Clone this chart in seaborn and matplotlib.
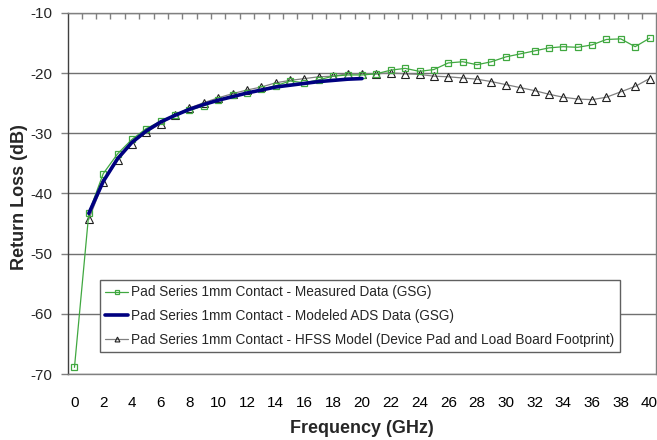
import numpy as np
import pandas as pd
import matplotlib
matplotlib.use("Agg")
import matplotlib.pyplot as plt
from matplotlib.ticker import FixedLocator
import seaborn as sns

freq = list(range(0, 41))
measured = [-68.9, -43.2, -36.7, -33.4, -31.0, -29.2, -28.0, -26.9, -26.2, -25.4,
            -24.5, -23.7, -23.3, -22.7, -22.1, -21.3, -21.6, -21.1, -20.5, -20.3,
            -20.3, -20.1, -19.5, -19.2, -19.7, -19.4, -18.3, -18.1, -18.6, -18.1,
            -17.3, -16.8, -16.3, -15.8, -15.6, -15.7, -15.3, -14.4, -14.3, -15.6,
            -14.2]
freq_ads = list(range(1, 21))
modeled = [-43.3, -38.0, -34.2, -31.5, -29.6, -28.1, -27.0, -26.0, -25.2, -24.5,
           -23.9, -23.3, -22.8, -22.3, -22.0, -21.7, -21.4, -21.2, -21.0, -20.9]
freq_hfss = list(range(1, 41))
hfss = [-44.3, -38.1, -34.5, -31.7, -29.8, -28.4, -26.9, -25.8, -24.9, -24.1,
        -23.4, -22.8, -22.3, -21.6, -21.2, -20.9, -20.6, -20.5, -20.1, -20.1,
        -20.1, -19.95, -20.1, -20.2, -20.5, -20.6, -20.8, -21.0, -21.4, -21.9,
        -22.4, -22.9, -23.5, -24.0, -24.3, -24.4, -24.0, -23.1, -22.2, -20.9]
labels = ["Pad Series 1mm Contact - Measured Data (GSG)",
          "Pad Series 1mm Contact - Modeled ADS Data (GSG)",
          "Pad Series 1mm Contact - HFSS Model (Device Pad and Load Board Footprint)"]
xtick_vals = list(range(0, 41, 2))
ytick_vals = [-70, -60, -50, -40, -30, -20, -10]

sns.set_style("white")
plt.rcParams['font.family'] = ['Liberation Sans', 'DejaVu Sans']

fig = plt.figure(figsize=(6.57, 4.40), dpi=100)
ax = fig.add_axes([68/657, 1-374/440, 588/657, 361/440])

df_m = pd.DataFrame({"f": freq, "v": measured})
df_a = pd.DataFrame({"f": freq_ads, "v": modeled})
df_h = pd.DataFrame({"f": freq_hfss, "v": hfss})

for yv in ytick_vals:
    ax.axhline(yv, color="#707070", lw=1.0, zorder=0)

green = "#40A840"
sns.lineplot(data=df_m, x="f", y="v", ax=ax, color=green, lw=0.9,
             marker="s", markersize=5, markerfacecolor="none",
             markeredgecolor=green, markeredgewidth=0.9, label=labels[0], zorder=3)
sns.lineplot(data=df_a, x="f", y="v", ax=ax, color="#000080", lw=2.6,
             label=labels[1], zorder=4)
sns.lineplot(data=df_h, x="f", y="v", ax=ax, color="#808080", lw=0.9,
             marker="^", markersize=5.5, markerfacecolor="none",
             markeredgecolor="#202020", markeredgewidth=0.8, label=labels[2], zorder=2)

ax.set_xlim(-0.45, 40.45)
ax.set_ylim(-70, -10)
ax.set_xticks(xtick_vals)
ax.set_xticklabels([str(v) for v in xtick_vals])
ax.set_yticks(ytick_vals)
ax.set_yticklabels([str(v) for v in ytick_vals])
ax.xaxis.set_minor_locator(FixedLocator(np.arange(0.5, 40, 1)))
ax.tick_params(axis="x", which="major", length=0, labelsize=11, pad=16, colors="black")
ax.tick_params(axis="x", which="minor", top=True, bottom=False, direction="in",
               length=4, width=1, color="#808080")
ax.tick_params(axis="y", which="major", left=True, direction="out", length=5,
               width=1, color="#808080", labelsize=11, pad=6)
ax.set_xlabel("")
ax.set_ylabel("")
ax.spines["left"].set_color("#404040")
for s in ["top", "right", "bottom"]:
    ax.spines[s].set_color("#808080")
for s in ax.spines.values():
    s.set_linewidth(1.0)

fig.text(362/657, 1-428/440, "Frequency (GHz)", ha="center", va="center",
         fontsize=13, fontweight="bold")
fig.text(20/657, 1-197/440, "Return Loss (dB)", ha="center", va="center",
         rotation=90, fontsize=13, fontweight="bold")

leg = ax.legend(loc="upper left", bbox_to_anchor=((100-68)/588, (374-280)/361),
                frameon=True, fancybox=False, fontsize=9.8, handlelength=1.65,
                handletextpad=0.25, borderpad=0.4, labelspacing=0.72,
                borderaxespad=0)
leg.get_frame().set_edgecolor("#606060")
leg.get_frame().set_linewidth(1.0)
leg.get_frame().set_facecolor("white")
leg.get_frame().set_alpha(1)
for h in leg.legend_handles:
    try:
        h.set_markersize(3.5)
    except Exception:
        pass

fig.savefig("out.png", dpi=100)
